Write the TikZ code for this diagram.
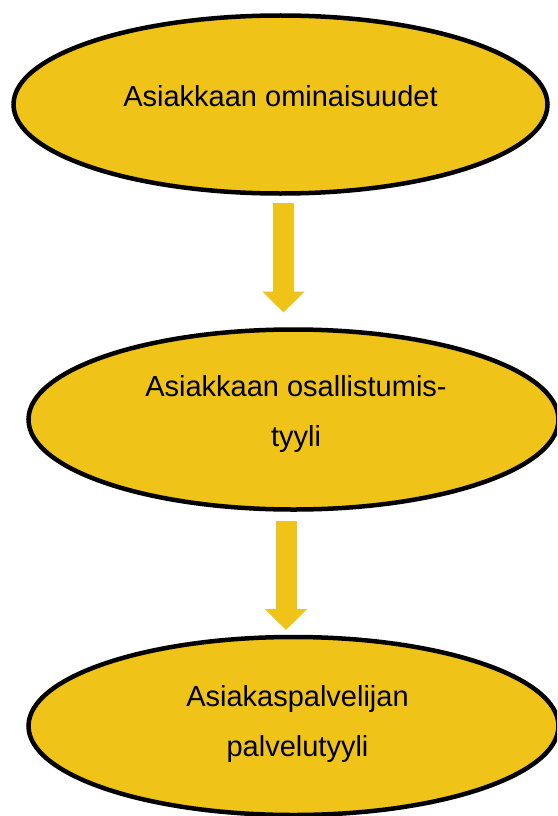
\documentclass[tikz,border=0pt]{standalone}
\usepackage{fontspec}
\setmainfont{Liberation Sans}
\usetikzlibrary{shapes.geometric,arrows.meta}
\definecolor{gold}{RGB}{239,195,24}
\begin{document}
\begin{tikzpicture}[x=1pt,y=-1pt,
  oval/.style={ellipse,draw=black,line width=4.5pt,fill=gold,inner sep=0pt,outer sep=0pt},
  label text/.style={inner sep=0pt,align=center,font=\fontsize{29}{50}\selectfont},
  blockarrow/.style={draw=gold,line width=21pt,-{Triangle[width=41pt,length=21pt,fill=gold]}}]
\useasboundingbox (0,0) rectangle (557,816);
\clip (0,0) rectangle (557,816);
\node[oval,minimum width=534pt,minimum height=178pt] (e1) at (280.5,104.5) {};
\node[oval,minimum width=530pt,minimum height=180pt] (e2) at (293.5,419.5) {};
\node[oval,minimum width=530pt,minimum height=178pt] (e3) at (293.5,726) {};
\node[label text] (t1) at (280.5,96) {Asiakkaan ominaisuudet};
\node[label text] (t2) at (296,414) {Asiakkaan osallistumis-\\tyyli};
\node[label text] (t3) at (297.5,723.5) {Asiakaspalvelijan\\palvelutyyli};
\coordinate (ax1) at (283.5,0);
\coordinate (ax2) at (286,0);
\draw[blockarrow,shorten <=9pt,shorten >=17pt] (e1.south -| ax1) -- (e2.north -| ax1);
\draw[blockarrow,shorten <=11pt,shorten >=7pt] (e2.south -| ax2) -- (e3.north -| ax2);
\end{tikzpicture}
\end{document}
